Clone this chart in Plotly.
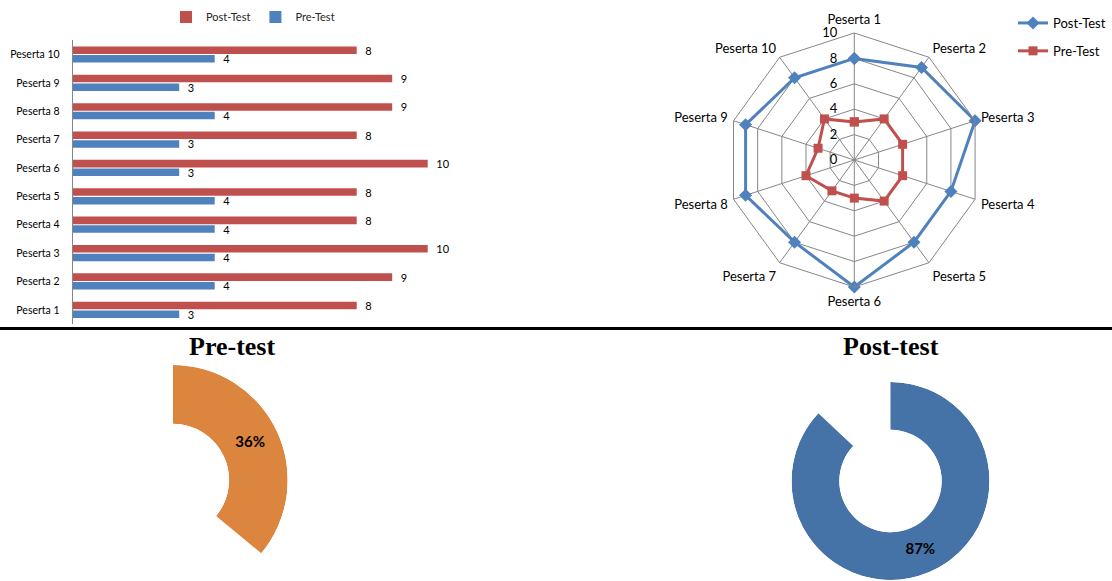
import math
import plotly.graph_objects as go

# ---------------- data ----------------
participants = ["Peserta 1", "Peserta 2", "Peserta 3", "Peserta 4", "Peserta 5",
                "Peserta 6", "Peserta 7", "Peserta 8", "Peserta 9", "Peserta 10"]
post_scores = [8, 9, 10, 8, 8, 10, 8, 9, 9, 8]
pre_scores = [3, 4, 4, 4, 4, 3, 3, 4, 3, 4]
series_names = ["Post-Test", "Pre-Test"]
donut_titles = ["Pre-test", "Post-test"]
pre_pct = 36
post_pct = 87

# ---------------- helpers (pixel -> paper) ----------------
W, H = 1112, 581
def fx(px):
    return px / W
def fy(py):
    return 1 - py / H

RED = "#C0504D"
BLUE = "#4F81BD"
GRID = "#868686"
FONT = "Lato"

fig = go.Figure()

# ---------------- horizontal grouped bars ----------------
fig.add_trace(go.Bar(
    y=participants, x=pre_scores, orientation="h", name=series_names[1],
    marker=dict(color=BLUE, line=dict(width=0)),
    texttemplate="\u00a0\u00a0%{x}", textposition="outside", constraintext="none",
    textfont=dict(family=FONT, size=11, color="#000000"), cliponaxis=False,
    xaxis="x", yaxis="y", legend="legend", hoverinfo="x+y"))
fig.add_trace(go.Bar(
    y=participants, x=post_scores, orientation="h", name=series_names[0],
    marker=dict(color=RED, line=dict(width=0)),
    texttemplate="\u00a0\u00a0%{x}", textposition="outside", constraintext="none",
    textfont=dict(family=FONT, size=11, color="#000000"), cliponaxis=False,
    xaxis="x", yaxis="y", legend="legend", hoverinfo="x+y"))

# ---------------- radar ----------------
theta_closed = participants + [participants[0]]
fig.add_trace(go.Scatterpolar(
    r=post_scores + [post_scores[0]], theta=theta_closed, name=series_names[0],
    mode="lines+markers", line=dict(color=BLUE, width=3),
    marker=dict(symbol="diamond", size=10, color=BLUE),
    subplot="polar", legend="legend2", legendgroup="post"))
fig.add_trace(go.Scatterpolar(
    r=pre_scores + [pre_scores[0]], theta=theta_closed, name=series_names[1],
    mode="lines+markers", line=dict(color=RED, width=3),
    marker=dict(symbol="square", size=9, color=RED),
    subplot="polar", legend="legend2", legendgroup="pre"))

# ---------------- donuts ----------------
ORANGE = "#DC853F"
STEEL = "#4572A7"
for pct, color, sub in [(pre_pct, ORANGE, "polar2"), (post_pct, STEEL, "polar3")]:
    span = pct * 3.6
    fig.add_trace(go.Barpolar(
        r=[1], theta=[span / 2], width=[span], base=[0],
        marker=dict(color=color, line=dict(width=0)),
        subplot=sub, showlegend=False, hoverinfo="skip"))
    fig.add_trace(go.Scatterpolar(
        r=[0.5], theta=[span / 2], mode="text", text=[f"{pct}%"],
        textposition="middle center",
        textfont=dict(family=FONT, size=15, color="#000000", weight="bold"),
        subplot=sub, showlegend=False, hoverinfo="skip"))

# pre donut geometry (sector trimmed so it fits the page)
pre_cx, pre_cy, pre_r = 172.7, 480, 115
pre_sector0 = 90 - pre_pct * 3.6 - 0.5
pre_bottom = pre_cy - pre_r * math.sin(math.radians(pre_sector0))
post_cx, post_cy, post_r = 890.5, 481, 99

radar_cx, radar_cy, radar_r = 854.3, 160, 127

hidden_polar = dict(
    bgcolor="rgba(0,0,0,0)",
    radialaxis=dict(visible=False, range=[0, 1]),
    angularaxis=dict(visible=False, rotation=90, direction="clockwise"),
)

fig.update_layout(
    width=W, height=H, autosize=False,
    margin=dict(l=0, r=0, t=0, b=0, pad=0),
    paper_bgcolor="white", plot_bgcolor="white",
    font=dict(family=FONT, color="#000000"),
    barmode="group", bargap=0.39, bargroupgap=0.13,
    xaxis=dict(domain=[fx(72.7), fx(498.7)], range=[0, 12], showticklabels=False,
               showgrid=False, zeroline=False, showline=False, ticks=""),
    yaxis=dict(domain=[fy(324), fy(40.3)], type="category", range=[-0.5, 9.5],
               showline=True, linecolor=GRID, linewidth=1, ticks="",
               ticklabelstandoff=10, showgrid=False, zeroline=False,
               tickfont=dict(family=FONT, size=10.5, color="#000000")),
    polar=dict(
        domain=dict(x=[fx(radar_cx - radar_r), fx(radar_cx + radar_r)],
                    y=[fy(radar_cy + radar_r), fy(radar_cy - radar_r)]),
        gridshape="linear", bgcolor="white",
        radialaxis=dict(range=[0, 10], dtick=2, tick0=0, angle=90, side="counterclockwise",
                        tickangle=90, ticks="outside", ticklen=12,
                        tickcolor="rgba(0,0,0,0)",
                        showline=False, gridcolor=GRID, gridwidth=1,
                        tickfont=dict(family=FONT, size=13, color="#000000")),
        angularaxis=dict(rotation=90, direction="clockwise", type="category",
                         gridcolor=GRID, linecolor=GRID, showline=True,
                         ticks="outside", ticklen=3, tickcolor="rgba(0,0,0,0)",
                         tickfont=dict(family=FONT, size=13, color="#000000")),
    ),
    polar2=dict(
        domain=dict(x=[fx(pre_cx), fx(pre_cx + pre_r)],
                    y=[fy(pre_bottom), fy(pre_cy - pre_r)]),
        sector=[pre_sector0, 90], hole=0.49, **hidden_polar),
    polar3=dict(
        domain=dict(x=[fx(post_cx - post_r), fx(post_cx + post_r)],
                    y=[fy(post_cy + post_r), fy(post_cy - post_r)]),
        hole=0.517, **hidden_polar),
    legend=dict(orientation="h", x=fx(166), y=fy(17), xanchor="left", yanchor="middle",
                traceorder="reversed", bgcolor="rgba(0,0,0,0)",
                font=dict(family=FONT, size=11, color="#262626")),
    legend2=dict(orientation="v", x=fx(1013), y=fy(8), xanchor="left", yanchor="top",
                 traceorder="grouped", tracegroupgap=8, bgcolor="rgba(0,0,0,0)",
                 font=dict(family=FONT, size=13, color="#000000")),
    shapes=[dict(type="line", xref="paper", yref="paper", x0=0, x1=1,
                 y0=fy(328.5), y1=fy(328.5), line=dict(color="#000000", width=3))],
    annotations=[
        dict(text=donut_titles[0], x=fx(232), y=fy(346), xref="paper", yref="paper",
             showarrow=False, xanchor="center", yanchor="middle",
             font=dict(family="Liberation Serif", size=26, color="#000000", weight="bold")),
        dict(text=donut_titles[1], x=fx(890.5), y=fy(346), xref="paper", yref="paper",
             showarrow=False, xanchor="center", yanchor="middle",
             font=dict(family="Liberation Serif", size=26, color="#000000", weight="bold")),
    ],
)

fig.write_html("out.html")
